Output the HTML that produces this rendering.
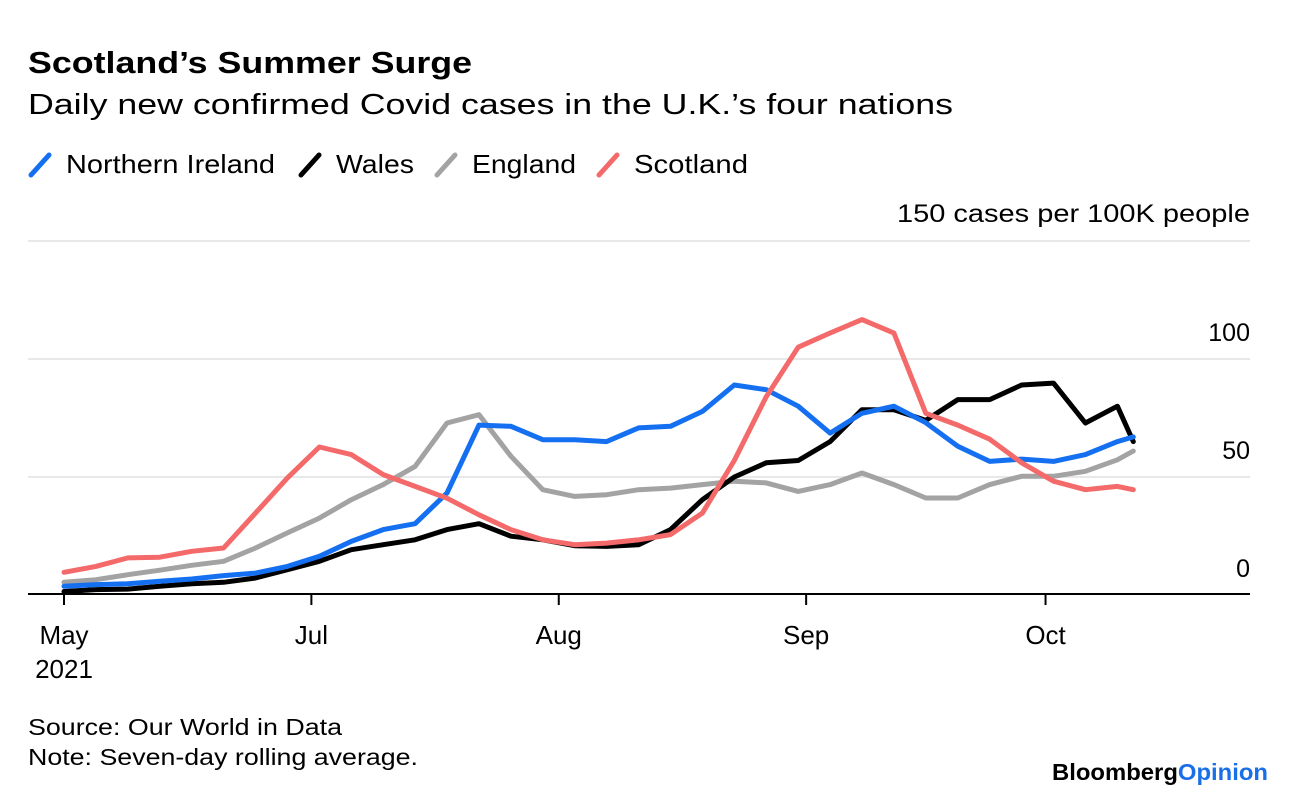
<!DOCTYPE html>
<html><head><meta charset="utf-8">
<style>
body{margin:0;background:#fff;width:1296px;height:796px;overflow:hidden;font-family:"Liberation Sans",Arial,sans-serif;}
svg text{font-family:"Liberation Sans",Arial,sans-serif;}
</style></head>
<body>
<svg id="chart" width="1296" height="796" viewBox="0 0 1296 796">
<text x="28" y="73" font-size="31" font-weight="bold" fill="#000" textLength="444" lengthAdjust="spacingAndGlyphs">Scotland’s Summer Surge</text>
<text x="28" y="114" font-size="29" fill="#000" textLength="925" lengthAdjust="spacingAndGlyphs">Daily new confirmed Covid cases in the U.K.’s four nations</text>
<g id="legend"></g>
<text x="1250" y="222" font-size="25" text-anchor="end" fill="#000" textLength="353" lengthAdjust="spacingAndGlyphs">150 cases per 100K people</text>
<g id="grid"></g>
<g id="series"></g>
<g id="xaxis"></g>
<text x="28" y="735" font-size="23" fill="#000" textLength="314" lengthAdjust="spacingAndGlyphs">Source: Our World in Data</text>
<text x="28" y="765" font-size="23" fill="#000" textLength="390" lengthAdjust="spacingAndGlyphs">Note: Seven-day rolling average.</text>
<text x="1052" y="780" font-size="23" font-weight="bold" textLength="216" lengthAdjust="spacingAndGlyphs"><tspan fill="#000">Bloomberg</tspan><tspan fill="#1a6ee8">Opinion</tspan></text>
</svg>
<script>
const days = [0,4,8,12,16,20,24,28,32,36,40,44,48,52,56,60,64,68,72,76,80,84,88,92,96,100,104,108,112,116,120,124,128,132,134];
const seriesNames = ["England","Wales","Northern Ireland","Scotland"];
const england = [5.4,6.5,8.6,10.5,12.6,14.3,19.9,26.3,32.6,40.4,46.8,54.5,72.9,76.4,58.8,44.6,41.8,42.5,44.6,45.3,46.8,48.2,47.5,43.9,46.8,51.7,46.8,41.1,41.1,46.8,50.3,50.3,52.4,57.3,61];
const wales = [1.5,2.3,2.5,3.7,4.8,5.4,7.2,10.7,14.3,19.2,21.3,23.4,27.7,30.2,24.9,23.4,20.9,20.6,21.3,27.7,40.4,50,56,57,65,78.5,78.5,74,82.8,82.8,89,89.8,72.9,80,65];
const northernIreland = [3.7,4.4,4.8,5.8,6.8,8.2,9.3,12.1,16.4,22.7,27.7,30.2,43.2,72,71.5,65.8,65.8,65,70.8,71.5,77.8,89,87,80,68.6,77,80,73,63,56.6,57.6,56.6,59.5,65,67];
const scotland = [9.6,12.1,15.7,16,18.5,19.9,34.7,49.6,62.7,59.5,51,46,41,34,27.7,23.4,21.3,22,23.4,25.6,34.7,57,84,105,111,116.7,111,77,72,66,56,48.2,44.6,46,44.6];
const yTicks = [0,50,100,150];
const xTickDays = [0,31,62,93,123];
const xTickLabels = ["May","Jul","Aug","Sep","Oct"];
const colors = {"England":"#a3a3a3","Wales":"#000000","Northern Ireland":"#1470f0","Scotland":"#f46a6a"};

const NS="http://www.w3.org/2000/svg";
function xs(d){return 64 + d*7.98;}
function ys(v){return 595 - v*2.36;}
function mk(tag,attrs,parent){const e=document.createElementNS(NS,tag);for(const k in attrs)e.setAttribute(k,attrs[k]);parent.appendChild(e);return e;}

const grid=document.getElementById('grid');
yTicks.forEach(t=>{
  if(t>0){
    const l=mk('line',{x1:28,x2:1250,y1:ys(t),y2:ys(t),stroke:'#e8e8e8','stroke-width':2},grid);
    
    
  }
  if(t<150){
    const tx=mk('text',{x:1250,y:ys(t)-18,'font-size':25,'text-anchor':'end',fill:'#000'},grid);
    tx.textContent=t;
    
    
  }
});

const sg=document.getElementById('series');
const order=[["England",england],["Wales",wales],["Northern Ireland",northernIreland],["Scotland",scotland]];
order.forEach(([name,vals])=>{
  const pts=days.map((d,i)=>xs(d).toFixed(1)+','+ys(vals[i]).toFixed(1)).join(' ');
  const p=mk('polyline',{points:pts,fill:'none',stroke:colors[name],'stroke-width':5,'stroke-linejoin':'round','stroke-linecap':'round'},sg);
  
  
});

const xa=document.getElementById('xaxis');
const base=mk('line',{x1:28,x2:1250,y1:594,y2:594,stroke:'#000','stroke-width':2},xa);


xTickDays.forEach((d,i)=>{
  const tk=mk('line',{x1:xs(d),x2:xs(d),y1:594,y2:605,stroke:'#000','stroke-width':2},xa);
  
  
  const tx=mk('text',{x:xs(d),y:644,'font-size':26,'text-anchor':'middle',fill:'#000'},xa);
  tx.textContent=xTickLabels[i];
  
  
});
const yr=mk('text',{x:xs(0),y:678,'font-size':26,'text-anchor':'middle',fill:'#000'},xa);
yr.textContent='2021';



const lg=document.getElementById('legend');
const legendItems=[["Northern Ireland",28,209],["Wales",298,78],["England",434,104],["Scotland",596,114]];
legendItems.forEach(([name,x,w])=>{
  const g=mk('g',{},lg);
  
  
  mk('line',{x1:x+3,y1:175,x2:x+21,y2:155,stroke:colors[name],'stroke-width':5,'stroke-linecap':'round'},g);
  const t=mk('text',{x:x+38,y:173,'font-size':26,fill:'#000',textLength:w,lengthAdjust:'spacingAndGlyphs'},g);
  t.textContent=name;
});
</script>
</body></html>
